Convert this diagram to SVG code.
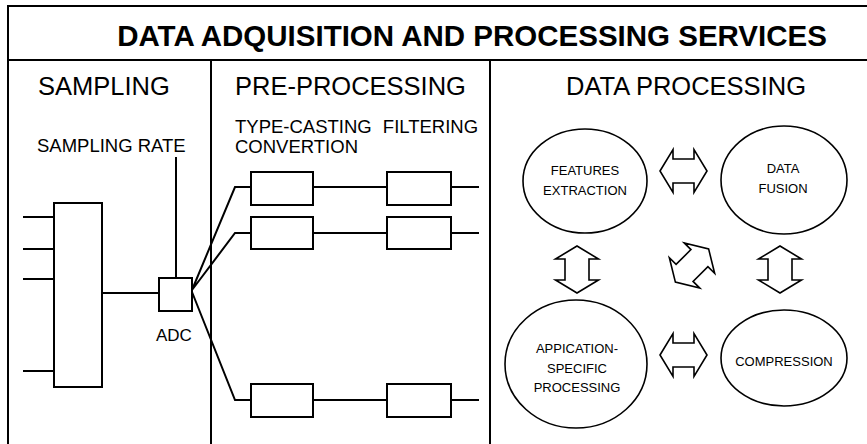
<svg xmlns="http://www.w3.org/2000/svg" width="867" height="444" viewBox="0 0 867 444">
<style>
  .ln { stroke: #000; stroke-width: 2; fill: none; }
  .bx { stroke: #000; stroke-width: 2; fill: #fff; }
  .el { stroke: #000; stroke-width: 1.6; fill: #fff; }
  .ar { stroke: #000; stroke-width: 1.6; fill: #fff; stroke-linejoin: miter; }
  text { font-family: "Liberation Sans", Arial, sans-serif; fill: #000; }
  .title { font-size: 29.5px; font-weight: bold; }
  .sec { font-size: 25.5px; }
  .sub { font-size: 18.5px; }
  .adc { font-size: 17px; }
  .node { font-size: 13px; text-anchor: middle; }
</style>
<defs>
  <polygon id="dblarrow" points="-23.5,0 -10.5,-21.5 -10.5,-12 10.5,-12 10.5,-21.5 23.5,0 10.5,21.5 10.5,12 -10.5,12 -10.5,21.5"/>
</defs>
<rect width="867" height="444" fill="#fff"/>

<g id="frame">
  <path class="ln" d="M8,444 V6 H867"/>
  <path class="ln" d="M8,60 H867"/>
  <path class="ln" d="M211,60 V444"/>
  <path class="ln" d="M490,60 V444"/>
  <text class="title" x="472" y="46" text-anchor="middle">DATA ADQUISITION AND PROCESSING SERVICES</text>
  <text class="sec" x="38" y="95">SAMPLING</text>
  <text class="sec" x="235" y="95">PRE-PROCESSING</text>
  <text class="sec" x="686" y="95" text-anchor="middle">DATA PROCESSING</text>
  <text class="sub" x="37" y="152">SAMPLING RATE</text>
  <text class="sub" x="235" y="133" word-spacing="6">TYPE-CASTING FILTERING</text>
  <text class="sub" x="235" y="153">CONVERTION</text>
</g>

<g id="connectors">
  <path class="ln" d="M23,217 H54 M23,249 H54 M23,279 H54 M23,371 H54"/>
  <path class="ln" d="M100,293 H159"/>
  <path class="ln" d="M176,157 V278"/>
  <path class="ln" d="M192,290 L235,187 H251 M192,290 L235,233 H251 M192,292 L235,400 H251"/>
  <path class="ln" d="M313,187 H387 M451,187 H479"/>
  <path class="ln" d="M313,233 H387 M451,233 H479"/>
  <path class="ln" d="M313,400 H387 M451,400 H479"/>
</g>

<g id="multiplexer"><rect class="bx" x="54" y="203" width="48" height="184"/></g>
<g id="adc">
  <rect class="bx" x="159" y="278" width="33" height="33"/>
  <text class="adc" x="156" y="341">ADC</text>
</g>
<g id="typecast1"><rect class="bx" x="251" y="172" width="62" height="33"/></g>
<g id="typecast2"><rect class="bx" x="251" y="217" width="62" height="32"/></g>
<g id="typecast3"><rect class="bx" x="251" y="384" width="62" height="33"/></g>
<g id="filter1"><rect class="bx" x="387" y="172" width="64" height="33"/></g>
<g id="filter2"><rect class="bx" x="387" y="217" width="64" height="32"/></g>
<g id="filter3"><rect class="bx" x="387" y="384" width="64" height="33"/></g>

<g id="features">
  <ellipse class="el" cx="585" cy="181" rx="62" ry="52"/>
  <text class="node" x="585" y="175">FEATURES</text>
  <text class="node" x="585" y="195">EXTRACTION</text>
</g>
<g id="fusion">
  <ellipse class="el" cx="784" cy="180" rx="63" ry="54"/>
  <text class="node" x="783" y="173">DATA</text>
  <text class="node" x="783" y="193">FUSION</text>
</g>
<g id="application">
  <ellipse class="el" cx="576" cy="364" rx="71" ry="64"/>
  <text class="node" x="577" y="353">APPICATION-</text>
  <text class="node" x="577" y="373">SPECIFIC</text>
  <text class="node" x="577" y="392">PROCESSING</text>
</g>
<g id="compression">
  <ellipse class="el" cx="784" cy="358" rx="63" ry="48"/>
  <text class="node" x="784" y="366">COMPRESSION</text>
</g>

<g id="arrows">
  <use href="#dblarrow" class="ar" transform="translate(683.5,171)"/>
  <use href="#dblarrow" class="ar" transform="translate(683.5,355)"/>
  <use href="#dblarrow" class="ar" transform="translate(577,269.5) rotate(90)"/>
  <use href="#dblarrow" class="ar" transform="translate(780,269.5) rotate(90)"/>
  <use href="#dblarrow" class="ar" transform="translate(692,265.5) rotate(-45)"/>
</g>
</svg>
